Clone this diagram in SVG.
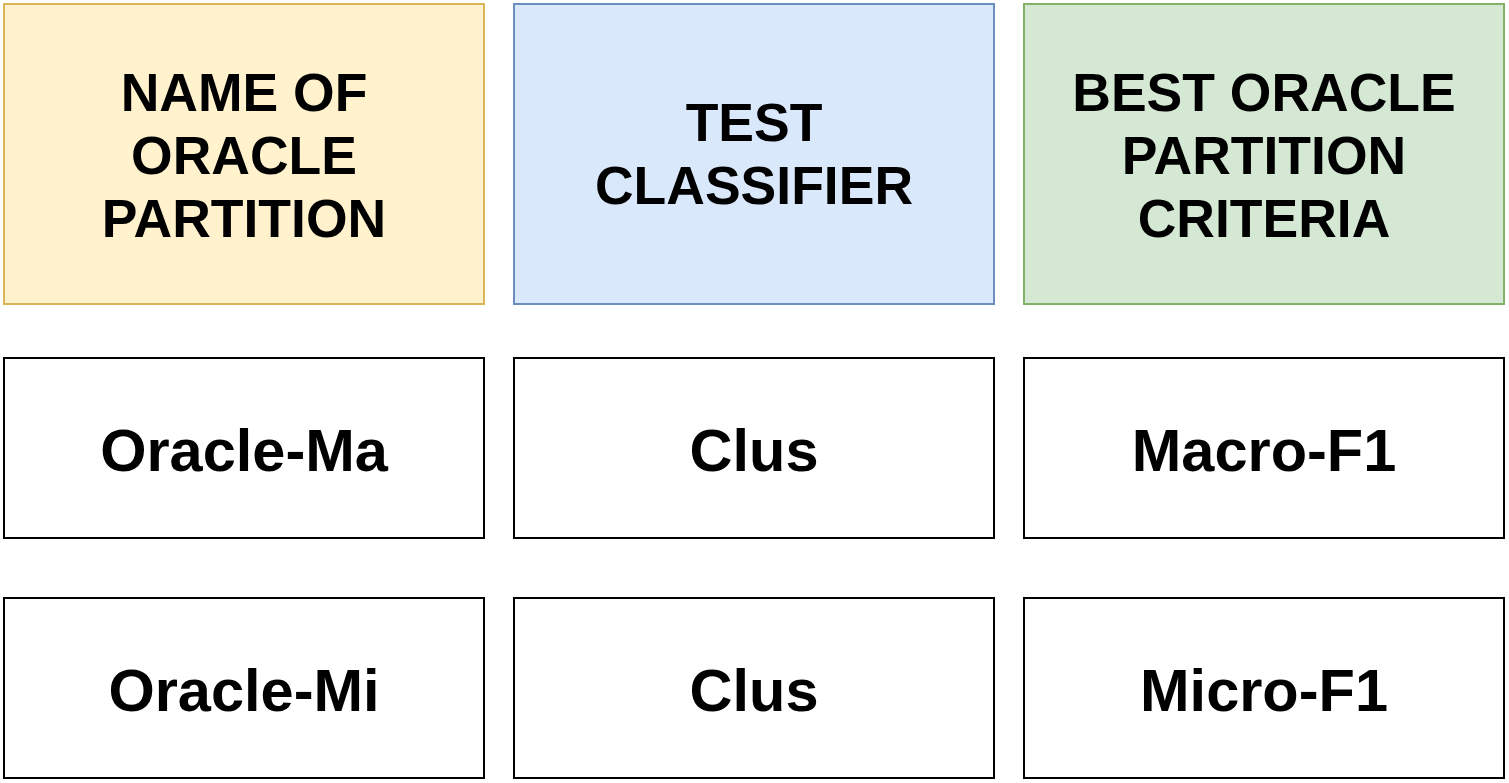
<svg xmlns="http://www.w3.org/2000/svg" width="1509" height="783" viewBox="0 0 1509 783">
<style>
rect{stroke-width:2}
.y{fill:#fff2cc;stroke:#d6b656}
.b{fill:#dae8fc;stroke:#6c8ebf}
.g{fill:#d5e8d4;stroke:#82b366}
.w{fill:#ffffff;stroke:#000000}
text{font-family:"Liberation Sans",Arial,sans-serif;font-weight:bold;fill:#000;text-anchor:middle}
.h{font-size:53.5px}
.c{font-size:59.5px}
</style>
<rect width="1509" height="783" fill="#ffffff"/>
<g id="name-header"><rect class="y" x="4" y="4" width="480" height="300"/><text class="h" x="244" y="111">NAME OF</text><text class="h" x="244" y="174">ORACLE</text><text class="h" x="244" y="237">PARTITION</text></g>
<g id="test-header"><rect class="b" x="514" y="4" width="480" height="300"/><text class="h" x="754" y="141">TEST</text><text class="h" x="754" y="204">CLASSIFIER</text></g>
<g id="criteria-header"><rect class="g" x="1024" y="4" width="480" height="300"/><text class="h" x="1264" y="111">BEST ORACLE</text><text class="h" x="1264" y="174">PARTITION</text><text class="h" x="1264" y="237">CRITERIA</text></g>
<g id="oracle-ma"><rect class="w" x="4" y="358" width="480" height="180"/><text class="c" x="244" y="471">Oracle-Ma</text></g>
<g id="clus-1"><rect class="w" x="514" y="358" width="480" height="180"/><text class="c" x="754" y="471">Clus</text></g>
<g id="macro-f1"><rect class="w" x="1024" y="358" width="480" height="180"/><text class="c" x="1264" y="471">Macro-F1</text></g>
<g id="oracle-mi"><rect class="w" x="4" y="598" width="480" height="180"/><text class="c" x="244" y="711">Oracle-Mi</text></g>
<g id="clus-2"><rect class="w" x="514" y="598" width="480" height="180"/><text class="c" x="754" y="711">Clus</text></g>
<g id="micro-f1"><rect class="w" x="1024" y="598" width="480" height="180"/><text class="c" x="1264" y="711">Micro-F1</text></g>
<g id="connectors"></g>
</svg>
